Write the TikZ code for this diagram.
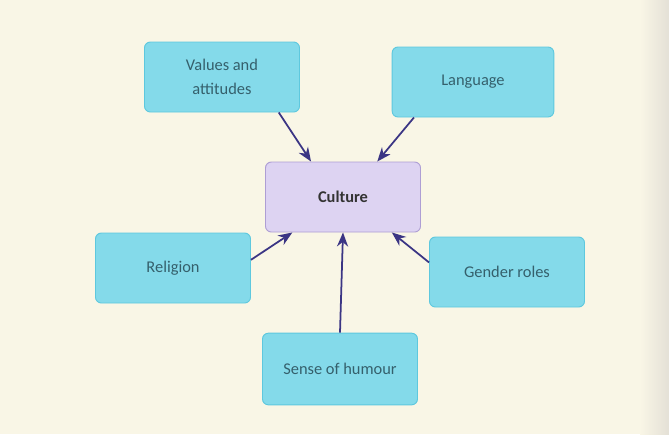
\documentclass[tikz,border=0pt]{standalone}
\usepackage{fontspec}
\setmainfont{Carlito}
\usepackage{tikz}
\usetikzlibrary{arrows.meta,positioning}
\definecolor{paper}{HTML}{F9F6E6}
\definecolor{paperedge}{HTML}{E4E0D6}
\definecolor{topicfill}{HTML}{84DAEA}
\definecolor{topicline}{HTML}{5EC8DE}
\definecolor{topictext}{HTML}{35606C}
\definecolor{corefill}{HTML}{DDD3F2}
\definecolor{coreline}{HTML}{AE9ED4}
\definecolor{linkcol}{HTML}{3B3584}

\tikzset{
  topic/.style={draw=topicline, line width=0.8pt, fill=topicfill, rounded corners=5pt,
    minimum width=4.65cm, minimum height=2.1cm, align=center, text=topictext,
    font=\fontsize{14}{20}\selectfont},
  core/.style={topic, draw=coreline, fill=corefill, text=black!80,
    font=\fontsize{14}{20}\selectfont\bfseries},
  link/.style={-{Stealth[length=12pt,width=9.5pt]}, line width=1.5pt, draw=linkcol}
}

\begin{document}
\begin{tikzpicture}[x=0.03cm, y=-0.03cm]
  % page
  \fill[paper] (0,0) rectangle (669,434);
  \shade[left color=paper, right color=paperedge] (640,0) rectangle (669,434);
  \useasboundingbox (0,0) rectangle (669,434);

  % centre
  \node[core] (culture) at (343,197) {Culture};

  % surrounding topics
  \node[topic] (values) at (222,77) {Values and\\attitudes};
  \node[topic, minimum width=4.85cm] (language) at (473,82) {Language};
  \node[topic] (religion) at (173,268) {Religion};
  \node[topic] (gender) at (507,272) {Gender roles};
  \node[topic, minimum height=2.15cm] (humour) at (340,369) {Sense of humour};

  % links
  \draw[link] (values.-32) -- (culture.132);
  \draw[link] (language.211) -- (culture.46);
  \draw[link] (religion.6) -- (culture.215);
  \draw[link] (gender.173) -- (culture.324);
  \draw[link] (humour.north) -- (culture.south);
\end{tikzpicture}
\end{document}
